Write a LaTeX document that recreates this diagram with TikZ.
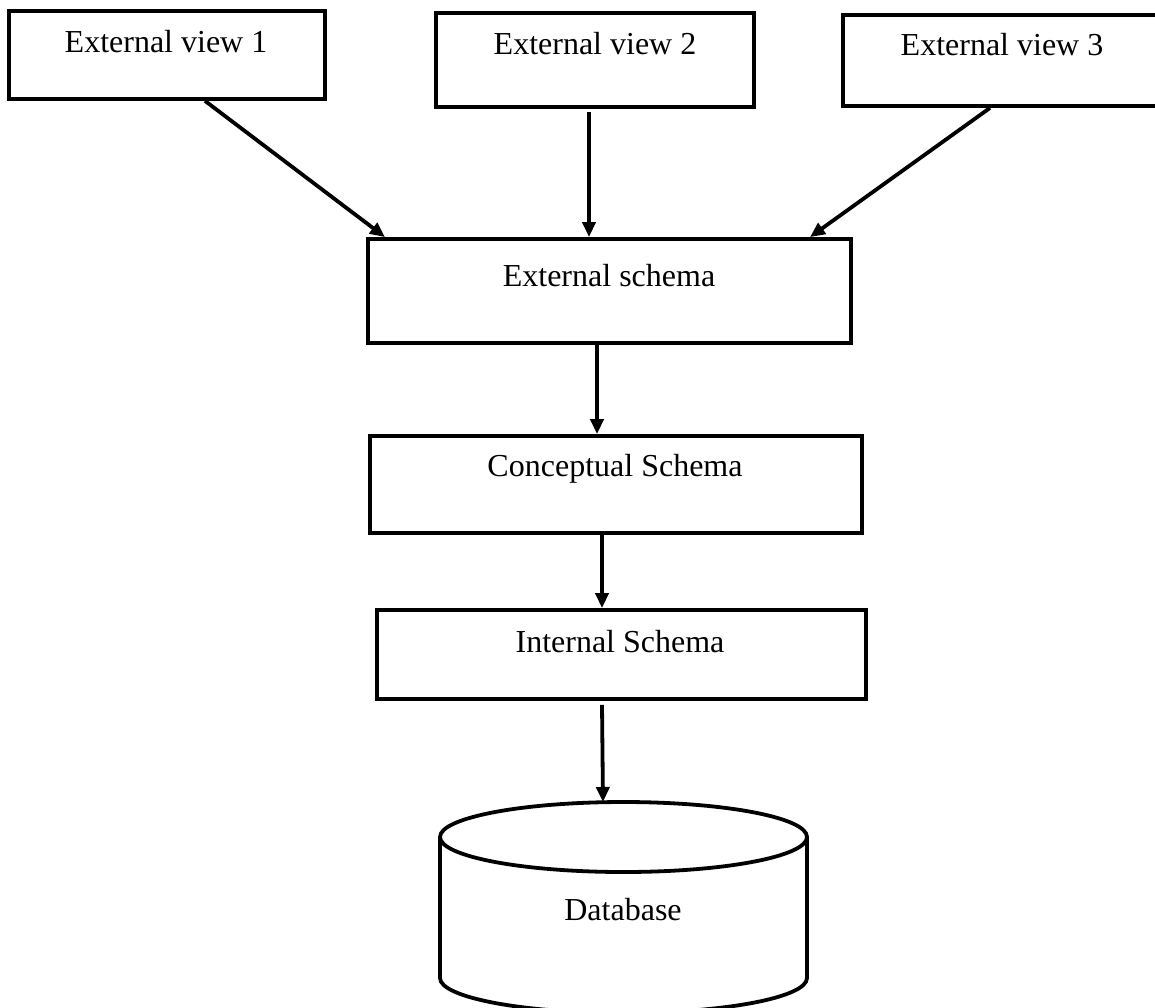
\documentclass[tikz,border=0pt]{standalone}
\usepackage{fontspec}
\setmainfont{Liberation Serif}
\usetikzlibrary{arrows.meta,calc}
\begin{document}
\begin{tikzpicture}[x=1pt,y=-1pt,
  line width=3.8pt,
  box/.style={draw=black, rectangle, inner sep=0pt, line width=3.8pt},
  lbl/.style={anchor=base, inner sep=0pt, font=\fontsize{32}{37}\selectfont},
  flow/.style={draw=black, line width=3.8pt, -{Triangle[length=15pt,width=13pt]}}]
\useasboundingbox (0,0) rectangle (1155,1007);

% external views
\node[box, minimum width=316pt, minimum height=88pt] (ev1) at (167,55) {};
\node[box, minimum width=318pt, minimum height=94pt] (ev2) at (595,60) {};
\node[box, minimum width=318pt, minimum height=91pt] (ev3) at (1002,60.5) {};
\node[lbl] (ev1t) at (166,52) {External view 1};
\node[lbl] (ev2t) at (595,54) {External view 2};
\node[lbl] (ev3t) at (1002,55) {External view 3};

% schema levels
\node[box, minimum width=483pt, minimum height=104pt] (es) at (609.5,291) {};
\node[box, minimum width=492pt, minimum height=97pt] (cs) at (616,484.5) {};
\node[box, minimum width=489pt, minimum height=89pt] (is) at (621.5,654.5) {};
\node[lbl] (est) at (609,286) {External schema};
\node[lbl] (cst) at (615,476) {Conceptual Schema};
\node[lbl] (ist) at (620,652) {Internal Schema};

% database cylinder
\coordinate (dbtop) at (623.5,802);
\draw[line width=3.8pt] (440,837) -- (440,978)
  arc[start angle=180, end angle=0, x radius=183.5, y radius=35] -- (807,837);
\draw[line width=3.8pt] (623.5,837) ellipse [x radius=183.5, y radius=35];
\node[lbl] (db) at (623,920) {Database};

% connectors
\draw[flow] ([xshift=38pt]ev1.south) -- ([xshift=-224.5pt]es.north);
\draw[flow] ([xshift=-6pt,yshift=-3pt]ev2.south) -- ([xshift=-20.5pt]es.north);
\draw[flow] ([xshift=-12pt]ev3.south) -- ([xshift=200.5pt]es.north);
\draw[flow] ([xshift=-12.5pt]es.south) -- ([xshift=-19pt]cs.north);
\draw[flow] ([xshift=-14pt]cs.south) -- ([xshift=-19.5pt]is.north);
\draw[flow] ([xshift=-19.5pt,yshift=-4pt]is.south) -- ([xshift=-20.5pt]dbtop);
\end{tikzpicture}
\end{document}
